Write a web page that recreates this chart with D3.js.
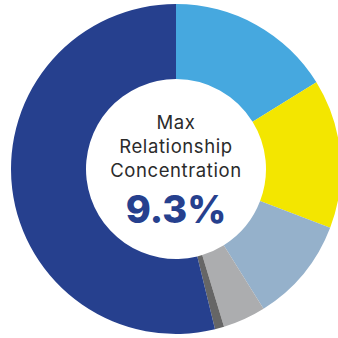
<!DOCTYPE html>
<html>
<head>
<meta charset="utf-8">
<script src="https://cdn.jsdelivr.net/npm/d3@7"></script>
<style>
  html, body { margin: 0; padding: 0; background: #fff; }
  svg { display: block; }
</style>
</head>
<body>
<svg id="chart" width="338" height="338"></svg>
<script>
// segment shares (percent), clockwise from 12 o'clock
const segments = ["Segment A", "Segment B", "Segment C", "Segment D", "Segment E", "Segment F"];
const shares = [16.2, 14.6, 10.3, 4.2, 0.9, 53.8];
const colors = ["#46a8df", "#f3e600", "#95b1cb", "#acadaf", "#666666", "#26408e"];

const titleLines = ["Max", "Relationship", "Concentration"];
const headline = "9.3%";

const svg = d3.select("#chart");
const cx = 176, cy = 169;
const outerR = 165, innerR = 90;

const g = svg.append("g")
  .attr("transform", `translate(${cx},${cy})`);

const pie = d3.pie()
  .value(d => d)
  .sort(null);

const arc = d3.arc()
  .innerRadius(innerR)
  .outerRadius(outerR);

g.selectAll("path")
  .data(pie(shares))
  .join("path")
  .attr("d", arc)
  .attr("fill", (d, i) => colors[i]);

// centre label
g.selectAll("text.title")
  .data(titleLines)
  .join("text")
  .attr("class", "title")
  .attr("x", 0)
  .attr("y", (d, i) => -40 + i * 24)
  .attr("text-anchor", "middle")
  .style("font-family", "Inter, 'Open Sans', sans-serif")
  .style("font-size", "18.5px")
  .style("letter-spacing", "0.6px")
  .style("fill", "#2b2b2b")
  .text(d => d);

g.append("text")
  .attr("x", 0)
  .attr("y", 54)
  .attr("text-anchor", "middle")
  .style("font-family", "Inter, 'Open Sans', sans-serif")
  .style("font-size", "38px")
  .style("font-weight", "800")
  .style("fill", "#26408e")
  .text(headline);
</script>
</body>
</html>
